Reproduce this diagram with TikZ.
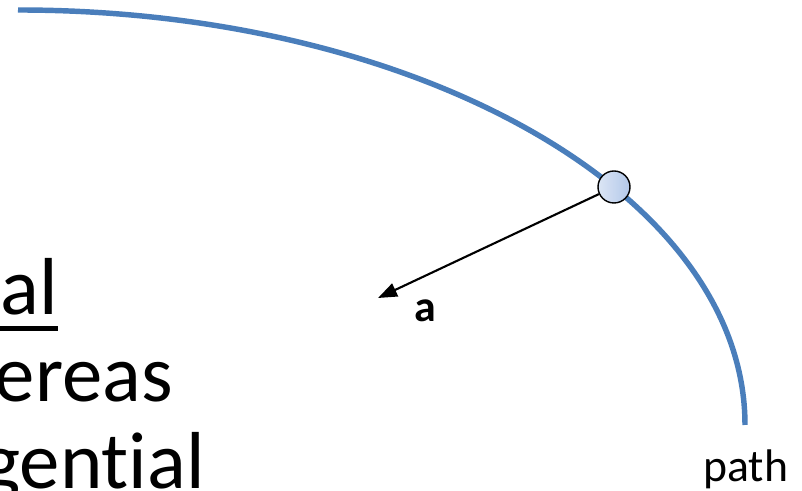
\documentclass[tikz,border=0pt]{standalone}
\usepackage{fontspec}
\setmainfont{Carlito}[Ligatures=NoCommon]
\usetikzlibrary{arrows.meta}
\definecolor{pathblue}{HTML}{4A7EBB}
\definecolor{ballleft}{HTML}{DCE6F5}
\definecolor{ballright}{HTML}{B2C7E9}
\newcommand{\thickul}[1]{\setbox0\hbox{#1}\rlap{\rule[-0.33cm]{\wd0}{0.1cm}}\box0}

\begin{document}
\begin{tikzpicture}[
  >={Triangle[length=3.8mm, width=2.8mm]},
  big/.style={font=\fontsize{46}{55}\selectfont, inner sep=0pt},
  lbl/.style={font=\fontsize{26}{31}\selectfont, inner sep=0pt},
  veclbl/.style={font=\bfseries\fontsize{25}{30}\selectfont, inner sep=0pt},
  ball/.style={circle, draw=black, line width=0.8pt, minimum size=6.4mm, inner sep=0pt, left color=ballleft, right color=ballright},
  orbit/.style={draw=pathblue, line width=3.1pt},
  vec/.style={->, draw=black, line width=1.2pt}]
\useasboundingbox (0,0) rectangle (16.04,9.82);
\clip (0,0) rectangle (16.04,9.82);
% the path of the particle
\coordinate (start) at (0.36,9.62);
\draw[orbit] (start) arc[start angle=90, end angle=0, x radius=14.54, y radius=8.3];
\node[ball] (part) at (12.28,6.08) {};
% acceleration
\coordinate (tip) at (7.56,3.86);
\draw[vec] (part) -- (tip);
\node[veclbl, anchor=base] (alab) at (8.5,3.38) {a};
\node[lbl, anchor=base west] (pathlab) at (14.06,0.18) {path};
% slide text, cut at the left
\node[big, anchor=base east] (line1) at (1.16,3.52) {\thickul{al}};
\node[big, anchor=base east] (line2) at (3.46,1.78) {ereas};
\node[big, anchor=base east] (line3) at (4.1,0.04) {gential};
\end{tikzpicture}
\end{document}
